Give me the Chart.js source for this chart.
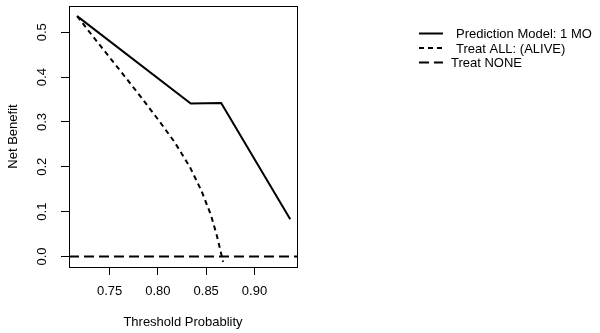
<!DOCTYPE html>
<html>
<head>
<meta charset="utf-8">
<script src="https://cdn.jsdelivr.net/npm/chart.js@4.4.0/dist/chart.umd.min.js"></script>
<style>
  html, body { margin: 0; padding: 0; background: #fff; }
</style>
</head>
<body>
<canvas id="chart" width="600" height="333"></canvas>
<script>
// decision curve values
const modelThreshold = [0.7164, 0.834, 0.8655, 0.937];
const modelBenefit   = [0.536, 0.341, 0.342, 0.083];

const allThreshold = [0.7164, 0.733, 0.750, 0.767, 0.783, 0.800, 0.817, 0.833, 0.845, 0.855, 0.861, 0.8675];
const allBenefit   = [0.536, 0.490, 0.444, 0.398, 0.354, 0.306, 0.256, 0.200, 0.147, 0.092, 0.047, -0.012];

const noneThreshold = [0.708, 0.944];
const noneBenefit   = [0, 0];

const xTicks = [0.75, 0.80, 0.85, 0.90];
const yTicks = [0.0, 0.1, 0.2, 0.3, 0.4, 0.5];

const seriesNames = [`Prediction Model: 1 MO`, `Treat ALL: (ALIVE)`, `Treat NONE`];

const fontFamily = `"Liberation Sans", Arial, sans-serif`;
const baseFont = { family: fontFamily, size: 13 };

const toPoints = (xs, ys) => xs.map((x, i) => ({ x: x, y: ys[i] }));

// box round the plot, rotated y labels (R style) and the legend
const extras = {
    id: `extras`,
    afterDraw(chart) {
        const ctx = chart.ctx;
        const a = chart.chartArea;
        const y = chart.scales.y;
        ctx.save();
        ctx.strokeStyle = `#000`;
        ctx.lineWidth = 1;
        ctx.setLineDash([]);
        ctx.strokeRect(Math.round(a.left) + 0.5, Math.round(a.top) + 0.5,
            Math.round(a.right - a.left), Math.round(a.bottom - a.top));

        ctx.fillStyle = `#000`;
        ctx.font = `13px ${fontFamily}`;
        ctx.textAlign = `center`;
        ctx.textBaseline = `middle`;
        for (const v of yTicks) {
            const py = y.getPixelForValue(v);
            ctx.save();
            ctx.translate(42, py);
            ctx.rotate(-Math.PI / 2);
            ctx.fillText(v.toFixed(1), 0, 0);
            ctx.restore();
        }

        const rows = [33.5, 48, 62.5];
        const textX = [456, 456, 451];
        ctx.textAlign = `left`;
        chart.data.datasets.forEach((ds, i) => {
            ctx.strokeStyle = ds.borderColor;
            ctx.lineWidth = ds.borderWidth;
            ctx.setLineDash(ds.borderDash || []);
            ctx.beginPath();
            ctx.moveTo(419, rows[i]);
            ctx.lineTo(443, rows[i]);
            ctx.stroke();
            ctx.fillText(ds.label, textX[i], rows[i] + 1);
        });
        ctx.restore();
    }
};

new Chart(document.getElementById(`chart`).getContext(`2d`), {
    type: `line`,
    data: {
        datasets: [
            {
                label: seriesNames[0],
                data: toPoints(modelThreshold, modelBenefit),
                borderColor: `#000`,
                borderWidth: 2,
                pointRadius: 0,
                tension: 0
            },
            {
                label: seriesNames[1],
                data: toPoints(allThreshold, allBenefit),
                borderColor: `#000`,
                borderWidth: 2,
                borderDash: [5, 4],
                pointRadius: 0,
                tension: 0
            },
            {
                label: seriesNames[2],
                data: toPoints(noneThreshold, noneBenefit),
                borderColor: `#000`,
                borderWidth: 2,
                borderDash: [10, 5],
                pointRadius: 0,
                tension: 0
            }
        ]
    },
    options: {
        responsive: false,
        animation: false,
        events: [],
        layout: { padding: { left: 0, top: 6, right: 303, bottom: 0 } },
        plugins: {
            legend: { display: false },
            tooltip: { enabled: false }
        },
        scales: {
            x: {
                type: `linear`,
                min: 0.708,
                max: 0.944,
                afterBuildTicks: s => { s.ticks = xTicks.map(v => ({ value: v })); },
                afterFit: s => { s.height = 66; },
                ticks: {
                    font: baseFont,
                    color: `#000`,
                    padding: 9,
                    maxRotation: 0,
                    autoSkip: false,
                    callback: v => v.toFixed(2)
                },
                grid: { drawOnChartArea: false, drawTicks: true, tickLength: 8, color: `#000` },
                border: { display: false },
                title: {
                    display: true,
                    text: `Threshold Probablity`,
                    font: baseFont,
                    color: `#000`,
                    padding: { top: 0, bottom: 3 }
                }
            },
            y: {
                type: `linear`,
                min: -0.0234,
                max: 0.5585,
                afterBuildTicks: s => { s.ticks = yTicks.map(v => ({ value: v })); },
                afterFit: s => { s.width = 69; },
                ticks: { display: false },
                grid: { drawOnChartArea: false, drawTicks: true, tickLength: 8, color: `#000` },
                border: { display: false },
                title: {
                    display: true,
                    text: `Net Benefit`,
                    font: baseFont,
                    color: `#000`,
                    padding: { top: 6, bottom: 0 }
                }
            }
        }
    },
    plugins: [extras]
});
</script>
</body>
</html>
